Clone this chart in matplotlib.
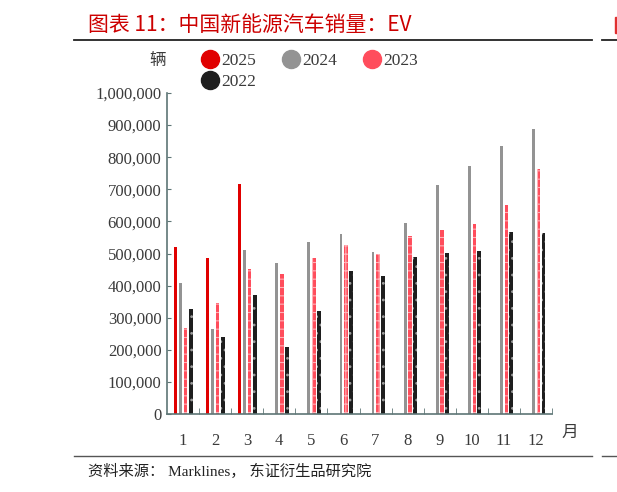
import matplotlib.pyplot as plt
from matplotlib.lines import Line2D
from matplotlib.patches import Rectangle
from matplotlib.ticker import FuncFormatter
import numpy as np

# data (vehicles per month)
months = ['1', '2', '3', '4', '5', '6', '7', '8', '9', '10', '11', '12']
years = ['2025', '2024', '2023', '2022']
sales_2025 = [520000, 486000, 716000, 0, 0, 0, 0, 0, 0, 0, 0, 0]
sales_2024 = [408000, 265000, 511000, 470000, 536000, 561000, 505000, 596000, 713000, 773000, 835000, 887000]
sales_2023 = [268000, 346000, 452000, 436000, 486000, 527000, 498000, 556000, 573000, 592000, 652000, 762000]
sales_2022 = [327000, 240000, 371000, 209000, 321000, 445000, 430000, 490000, 502000, 507000, 567000, 563000]

cjk = ['Noto Sans CJK SC', 'DejaVu Sans']
serif = 'Liberation Serif'
axis_col = '#5E7676'
text_col = '#3a3a3a'

plt.rcParams['hatch.linewidth'] = 0.8

fig = plt.figure(figsize=(6.17, 4.92), dpi=100)
W, H = 617, 492
ax = fig.add_axes([167 / W, 1 - 414 / H, (552 - 167) / W, (414 - 93) / H])

x = np.arange(len(months))
ax.bar(x - 0.235, sales_2025, width=0.09, color='#E00000', linewidth=0)
ax.bar(x - 0.078, sales_2024, width=0.09, color='#939393', linewidth=0)
ax.bar(x + 0.078, sales_2023, width=0.11, color='#FF4D5C', edgecolor='#FFB0B6',
       hatch='++', linewidth=0)
ax.bar(x + 0.235, sales_2022, width=0.12, color='#1E1E1E', edgecolor='#9A9A9A',
       hatch='..', linewidth=0)

ax.set_xlim(-0.5, len(months) - 0.5)
ax.set_ylim(0, 1000000)
ax.set_yticks(np.arange(0, 1000001, 100000))
ax.yaxis.set_major_formatter(FuncFormatter(lambda v, p: f'{int(v):,}'))
ax.set_xticks(x)
ax.set_xticklabels(months)
ax.set_xticks(np.arange(0.5, len(months), 1), minor=True)

for s in ['top', 'right']:
    ax.spines[s].set_visible(False)
for s in ['left', 'bottom']:
    ax.spines[s].set_color(axis_col)
    ax.spines[s].set_linewidth(1.2)

ax.tick_params(axis='y', direction='in', length=3, color=axis_col, pad=4,
               labelsize=12, labelcolor=text_col)
ax.tick_params(axis='x', which='major', length=0, pad=14, labelsize=12, labelcolor=text_col)
ax.tick_params(axis='x', which='minor', direction='in', length=4, color=axis_col)
for lab in ax.get_xticklabels() + ax.get_yticklabels():
    lab.set_fontfamily(serif)

# legend, reordered so 2022 wraps under 2025
cols = {'2025': '#E00000', '2024': '#939393', '2023': '#FF4D5C', '2022': '#1E1E1E'}
order = ['2025', '2022', '2024', '2023']
handles = [Line2D([], [], linestyle='none', marker='o', markersize=13,
                  markerfacecolor=cols[y], markeredgecolor=cols[y]) for y in order]
fig.legend(handles, order, loc='upper left', bbox_to_anchor=(193 / W, 1 - 46 / H),
           ncol=3, frameon=False, handletextpad=0.05, columnspacing=1.4,
           labelspacing=0.25, borderaxespad=0, handlelength=1.2,
           prop={'family': serif, 'size': 12.5}, labelcolor=text_col)

fig.text(158 / W, 1 - 60 / H, '辆', family=cjk, fontsize=12, color=text_col,
         ha='center', va='center')
fig.text(570 / W, 1 - 432 / H, '月', family=cjk, fontsize=12, color=text_col,
         ha='center', va='center')

# title and rules
fig.text(88 / W, 1 - 25 / H, '图表 11：中国新能源汽车销量：EV', family=cjk,
         fontsize=15, fontweight='medium', color='#CC0000', ha='left', va='center')
# sliver of the next chart's title, cut by the crop
fig.add_artist(Rectangle((615 / W, 1 - 33 / H), 2 / W, 16 / H, color='#E03030',
                         transform=fig.transFigure))
for x0, x1 in [(74, 592), (602, 617)]:
    fig.add_artist(Line2D([x0 / W, x1 / W], [1 - 40 / H, 1 - 40 / H], color='#222222', lw=1.3))
    fig.add_artist(Line2D([x0 / W, x1 / W], [1 - 456 / H, 1 - 456 / H], color='#555555', lw=1.0))

fig.text(88 / W, 1 - 471 / H, '资料来源： Marklines， 东证衍生品研究院',
         family=[serif] + cjk, fontsize=11, color='#222222', ha='left', va='center')

fig.savefig('out.png', dpi=100)
